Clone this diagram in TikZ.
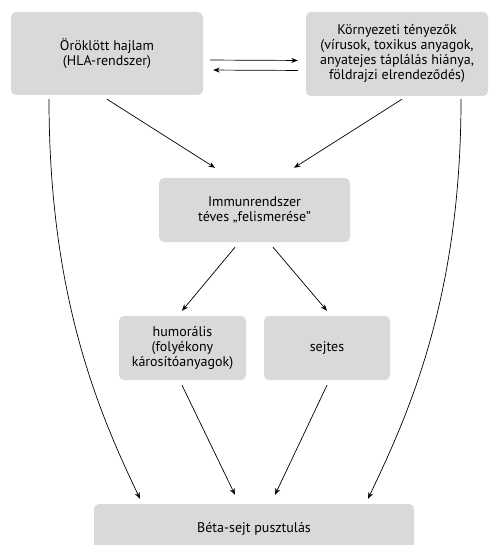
\documentclass[tikz,border=0pt]{standalone}
\usepackage{fontspec}
\setmainfont{PT Sans}
\usetikzlibrary{arrows.meta}
\definecolor{boxgray}{HTML}{D9D9D9}
\begin{document}
\begin{tikzpicture}[x=1pt,y=-1pt,
  box/.style={fill=boxgray, rounded corners=5pt, align=center, inner sep=0pt,
    font=\fontsize{14}{15}\selectfont},
  arr/.style={-{Stealth[length=6.5pt,width=5pt]}, line width=0.7pt, black}]
\useasboundingbox (0,0) rectangle (488,545);
\node[box, minimum width=192, minimum height=83] (b1) at (107,53.5) {Öröklött hajlam\\(HLA-rendszer)};
\node[box, minimum width=182, minimum height=84] (b2) at (397,54) {Környezeti tényezők\\(vírusok, toxikus anyagok,\\anyatejes táplálás hiánya,\\földrajzi elrendeződés)};
\node[box, minimum width=191, minimum height=64] (b3) at (254.5,210) {Immunrendszer\\téves „felismerése”};
\node[box, minimum width=127, minimum height=64] (b4) at (182.5,348) {humorális\\(folyékony\\károsítóanyagok)};
\node[box, minimum width=126, minimum height=64] (b5) at (327,348) {sejtes};
\node[box, minimum width=320, minimum height=50] (b6) at (254,529) {Béta-sejt pusztulás};

\draw[arr, shorten <=7pt, shorten >=8pt] ([yshift=-6.5pt]b1.east) -- ([yshift=-6.5pt]b2.west);
\draw[arr, shorten <=8pt, shorten >=10pt] ([yshift=-16.5pt]b2.west) -- ([yshift=-16.5pt]b1.east);

\draw[arr] ([shift={(0,4)}]b1.south) -- ([shift={(-39.5,-10)}]b3.north);
\draw[arr] ([shift={(5,3)}]b2.south) -- ([shift={(39.5,-10)}]b3.north);
\draw[arr] ([shift={(-19.5,5)}]b3.south) -- ([shift={(-0.5,-5)}]b4.north);
\draw[arr] ([shift={(18.5,5)}]b3.south) -- ([shift={(0,-5)}]b5.north);
\draw[arr] ([shift={(-0.5,5)}]b4.south) -- ([shift={(-19,-9)}]b6.north);
\draw[arr] ([shift={(0,5)}]b5.south) -- ([shift={(21,-9)}]b6.north);
\draw[arr] ([shift={(-58,4)}]b1.south) .. controls +(0,200) and +(-40,-84) .. ([shift={(-114,-5)}]b6.north);
\draw[arr] ([shift={(64,3)}]b2.south) .. controls +(0,200) and +(40,-84) .. ([shift={(114,-5)}]b6.north);
\end{tikzpicture}
\end{document}
